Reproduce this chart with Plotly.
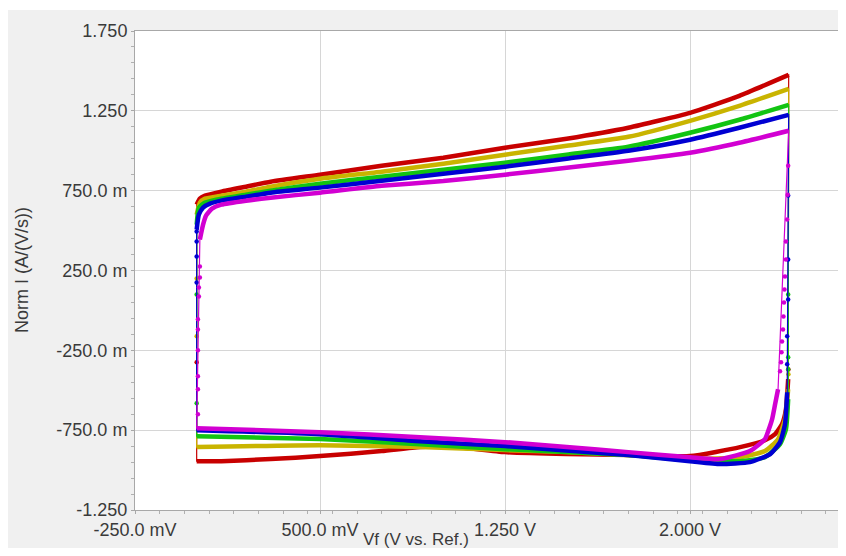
import plotly.graph_objects as go

# ---------------- data (V vs. Ref., A/(V/s)) ----------------
X_TICKS = [-0.25, 0.5, 1.25, 2.0]
X_TICK_TEXT = ["-250.0 mV", "500.0 mV", "1.250 V", "2.000 V"]
Y_TICKS = [-1.25, -0.75, -0.25, 0.25, 0.75, 1.25, 1.75]
Y_TICK_TEXT = ["-1.250", "-750.0 m", "-250.0 m", "250.0 m", "750.0 m", "1.250", "1.750"]

RED_UP_V = [0.0, 0.013, 0.034, 0.10, 0.20, 0.30, 0.50, 0.75, 1.00, 1.25, 1.50, 1.75, 2.00, 2.20, 2.40]
RED_UP_I = [0.6625, 0.70, 0.719, 0.744, 0.775, 0.806, 0.85, 0.906, 0.956, 1.019, 1.075, 1.144, 1.2375, 1.344, 1.475]
RED_DN_V = [2.398, 2.389, 2.373, 2.345, 2.304, 2.203, 2.0, 1.75, 1.5, 1.25, 1.03, 0.905, 0.75, 0.5, 0.3, 0.1, 0.0]
RED_DN_I = [-0.431, -0.619, -0.7125, -0.775, -0.8125, -0.856, -0.9125, -0.906, -0.90, -0.8875, -0.852, -0.856, -0.881, -0.9125, -0.931, -0.944, -0.944]
RED_DOT_V = [0.0, 2.399]
RED_DOT_I = [-0.325, -0.37]

YEL_UP_V = [0.0, 0.013, 0.034, 0.10, 0.20, 0.30, 0.50, 0.75, 1.00, 1.25, 1.50, 1.75, 2.00, 2.20, 2.40]
YEL_UP_I = [0.60, 0.675, 0.70, 0.719, 0.744, 0.775, 0.825, 0.869, 0.919, 0.975, 1.031, 1.0875, 1.1875, 1.281, 1.3875]
YEL_DN_V = [2.398, 2.385, 2.357, 2.304, 2.203, 2.0, 1.75, 1.5, 1.25, 0.905, 0.5, 0.0]
YEL_DN_I = [-0.494, -0.681, -0.806, -0.881, -0.919, -0.931, -0.906, -0.8875, -0.875, -0.856, -0.844, -0.856]
YEL_DOT_V = [0.0, 0.0, 2.399]
YEL_DOT_I = [-0.1625, 0.20, -0.40]

GRN_UP_V = [0.0, 0.009, 0.034, 0.10, 0.20, 0.30, 0.50, 0.75, 1.00, 1.25, 1.50, 1.75, 2.00, 2.20, 2.40]
GRN_UP_I = [0.5375, 0.644, 0.675, 0.70, 0.725, 0.75, 0.794, 0.8375, 0.881, 0.925, 0.975, 1.025, 1.1125, 1.194, 1.2875]
GRN_DN_V = [2.398, 2.389, 2.365, 2.304, 2.203, 2.0, 1.75, 1.25, 0.905, 0.5, 0.0]
GRN_DN_I = [-0.556, -0.744, -0.8375, -0.919, -0.944, -0.9375, -0.906, -0.869, -0.8375, -0.806, -0.7875]
GRN_DOT_V = [0.0, 0.0, 2.398, 2.398, 2.398]
GRN_DOT_I = [0.10, -0.581, 0.10, -0.294, -0.369]

BLU_UP_V = [0.0, 0.009, 0.026, 0.054, 0.10, 0.20, 0.30, 0.50, 0.75, 1.00, 1.25, 1.50, 1.75, 2.00, 2.20, 2.40]
BLU_UP_I = [0.506, 0.60, 0.644, 0.669, 0.6875, 0.7125, 0.7375, 0.769, 0.8125, 0.856, 0.90, 0.95, 1.0, 1.069, 1.144, 1.225]
BLU_DN_V = [2.394, 2.385, 2.365, 2.325, 2.243, 2.122, 2.0, 1.75, 1.25, 0.905, 0.5, 0.0]
BLU_DN_I = [-0.5125, -0.7125, -0.825, -0.90, -0.95, -0.9625, -0.944, -0.906, -0.85, -0.819, -0.775, -0.75]
BLU_DOT_V = [0.0, 0.0, 0.0, 0.0, 2.398, 2.398, 2.398, 2.394, 2.394]
BLU_DOT_I = [0.494, 0.431, 0.3375, 0.175, 0.719, 0.319, 0.069, -0.1625, -0.3375]

MAG_UP_V = [0.013, 0.026, 0.038, 0.062, 0.10, 0.20, 0.30, 0.50, 0.75, 1.00, 1.25, 1.50, 1.75, 2.00, 2.20, 2.40]
MAG_UP_I = [0.444, 0.5375, 0.594, 0.6375, 0.6625, 0.6875, 0.706, 0.7375, 0.781, 0.81, 0.85, 0.894, 0.9375, 0.9875, 1.05, 1.125]
MAG_DN_V = [2.357, 2.345, 2.333, 2.317, 2.304, 2.243, 2.122, 2.0, 1.75, 1.5, 1.25, 0.905, 0.5, 0.0]
MAG_DN_I = [-0.494, -0.5875, -0.681, -0.756, -0.806, -0.881, -0.931, -0.919, -0.8875, -0.856, -0.825, -0.794, -0.7625, -0.7375]
MAG_DOT_V = [0.013, 0.013, 0.009, 0.009, 0.005, 0.005, 0.005, 0.005, 0.005, 0.005,
             2.398, 2.396, 2.394, 2.389, 2.389, 2.385, 2.383, 2.381, 2.379, 2.377, 2.373, 2.371, 2.369, 2.365]
MAG_DOT_I = [0.275, 0.206, 0.144, 0.0875, -0.056, -0.119, -0.25, -0.4125, -0.494, -0.65,
             0.906, 0.725, 0.569, 0.431, 0.319, 0.2125, 0.131, 0.05, -0.0375, -0.119, -0.194, -0.2625, -0.325, -0.381]

SERIES = [
    ("#c80000", RED_UP_V, RED_UP_I, RED_DN_V, RED_DN_I, RED_DOT_V, RED_DOT_I),
    ("#c9b400", YEL_UP_V, YEL_UP_I, YEL_DN_V, YEL_DN_I, YEL_DOT_V, YEL_DOT_I),
    ("#12c412", GRN_UP_V, GRN_UP_I, GRN_DN_V, GRN_DN_I, GRN_DOT_V, GRN_DOT_I),
    ("#0000d2", BLU_UP_V, BLU_UP_I, BLU_DN_V, BLU_DN_I, BLU_DOT_V, BLU_DOT_I),
    ("#d200d2", MAG_UP_V, MAG_UP_I, MAG_DN_V, MAG_DN_I, MAG_DOT_V, MAG_DOT_I),
]

# ---------------- layout constants ----------------
OFF = 8                      # default page body margin
W, H = 846 - 2 * OFF, 556 - 2 * OFF
ML, MR, MT = 135 - OFF, 0, 31 - OFF
MB = H - (510 - OFF)
PW, PH = W - ML - MR, H - MT - MB
FONT = "Liberation Sans, Arial, sans-serif"
TXT = "#3a3a3a"
FS = 18


def pxx(p):
    return (p - OFF - ML) / PW


def pxy(p):
    return (H - MB - (p - OFF)) / PH


fig = go.Figure()
for color, uv, ui, dv, di, ov, oi in SERIES:
    loop_v = uv + dv + [uv[0]]
    loop_i = ui + di + [ui[0]]
    fig.add_trace(go.Scatter(x=loop_v, y=loop_i, mode="lines",
                             line=dict(color=color, width=1.2), hoverinfo="skip"))
    fig.add_trace(go.Scatter(x=uv, y=ui, mode="lines",
                             line=dict(color=color, width=4.5, shape="spline", smoothing=0.5)))
    fig.add_trace(go.Scatter(x=dv, y=di, mode="lines",
                             line=dict(color=color, width=4.5, shape="spline", smoothing=0.5)))
    fig.add_trace(go.Scatter(x=ov, y=oi, mode="markers",
                             marker=dict(color=color, size=4.5)))

x_end = 0.5 + (838 - 320) / (370 / 1.5)

fig.update_layout(
    width=W, height=H,
    margin=dict(l=ML, r=MR, t=MT, b=MB, pad=0),
    paper_bgcolor="#f0f0f0",
    plot_bgcolor="#ffffff",
    showlegend=False,
    font=dict(family=FONT, color=TXT, size=FS),
    xaxis=dict(
        range=[-0.25, x_end], tickmode="array", tickvals=X_TICKS, ticktext=X_TICK_TEXT,
        showgrid=True, gridcolor="#d6d6d6", gridwidth=1, zeroline=False,
        showline=True, linecolor="#a8a8a8", linewidth=1, mirror=True,
        ticks="outside", ticklen=3, tickcolor="#a8a8a8",
        minor=dict(ticks="outside", ticklen=3, tick0=0.05, dtick=0.1, tickcolor="#b0b0b0", showgrid=False),
        tickfont=dict(size=FS, color=TXT, family=FONT),
    ),
    yaxis=dict(
        range=[-1.25, 1.75], tickmode="array", tickvals=Y_TICKS, ticktext=Y_TICK_TEXT,
        showgrid=True, gridcolor="#d6d6d6", gridwidth=1, zeroline=False,
        showline=True, linecolor="#a8a8a8", linewidth=1, mirror=True,
        ticks="outside", ticklen=3, tickcolor="#a8a8a8",
        minor=dict(ticks="outside", ticklen=3, tick0=0.05, dtick=0.1, tickcolor="#b0b0b0", showgrid=False),
        tickfont=dict(size=FS, color=TXT, family=FONT),
    ),
    annotations=[
        dict(text="Vf (V vs. Ref.)", xref="paper", yref="paper", x=pxx(416), y=pxy(539),
             xanchor="center", yanchor="middle", showarrow=False, font=dict(size=17, color=TXT, family=FONT)),
        dict(text="Norm I (A/(V/s))", xref="paper", yref="paper", x=pxx(22), y=pxy(270),
             xanchor="center", yanchor="middle", textangle=-90, showarrow=False,
             font=dict(size=FS, color=TXT, family=FONT)),
    ],
    shapes=[
        dict(type="rect", xref="paper", yref="paper", x0=pxx(0), x1=pxx(846), y0=pxy(10), y1=pxy(0),
             fillcolor="#ffffff", line=dict(width=0), layer="below"),
    ],
)

fig.write_html("out.html")
